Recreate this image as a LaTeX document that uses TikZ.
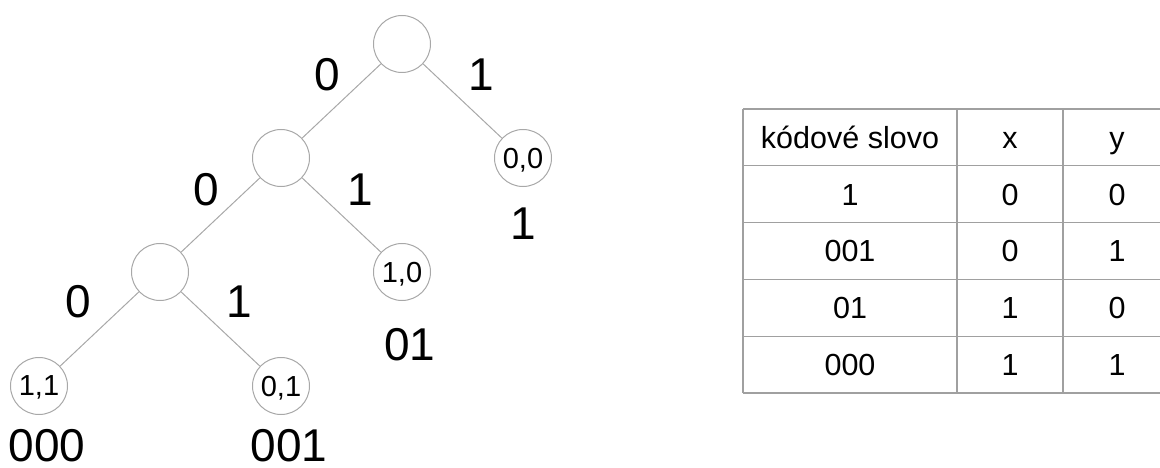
\documentclass[tikz,border=0pt]{standalone}
\usepackage{fontspec}
\setmainfont{Liberation Sans}
\definecolor{treegray}{HTML}{A8A8A8}
\definecolor{tablegray}{HTML}{A0A0A0}
\begin{document}
\begin{tikzpicture}[x=1pt,y=-1pt,
  tn/.style={circle,draw=treegray,line width=1pt,minimum size=57pt,inner sep=0pt,
    font=\fontsize{29}{33}\selectfont,text depth=0pt},
  big/.style={inner sep=0pt,font=\fontsize{46}{55}\selectfont},
  cell/.style={inner sep=0pt,anchor=base,font=\fontsize{30.5}{36}\selectfont},
  edge/.style={draw=treegray,line width=1pt},
  grid/.style={draw=tablegray,line width=1.2pt}]
\useasboundingbox (0,0) rectangle (1160,468);

% tree nodes
\node[tn] (root) at (402,44) {};
\node[tn] (a) at (281,158) {};
\node[tn] (b) at (523,158) {0,0};
\node[tn] (c) at (160,272) {};
\node[tn] (d) at (402,272) {1,0};
\node[tn] (e) at (39,386) {1,1};
\node[tn] (f) at (281,386) {0,1};

% edges
\draw[edge] (root) -- (a);
\draw[edge] (root) -- (b);
\draw[edge] (a) -- (c);
\draw[edge] (a) -- (d);
\draw[edge] (c) -- (e);
\draw[edge] (c) -- (f);

% edge labels
\node[big] (l0a) at (327,75) {0};
\node[big] (l1a) at (481,75) {1};
\node[big] (l0b) at (206,190) {0};
\node[big] (l1b) at (360,190) {1};
\node[big] (l0c) at (78,302) {0};
\node[big] (l1c) at (239,302) {1};

% code words
\node[big] (cb) at (523,223.5) {1};
\node[big] (cd) at (410,345) {01};
\node[big] (ce) at (47,446) {000};
\node[big] (cf) at (289,446) {001};

% table grid
\foreach \i/\y in {0/109,1/165.8,2/222.6,3/279.4,4/336.2,5/393}{
  \coordinate (tl\i) at (743,\y);
  \coordinate (tr\i) at (1160,\y);
  \draw[grid] (tl\i) -- (tr\i);
}
\foreach \n/\x in {v0/743,v1/957,v2/1063}{
  \coordinate (\n top) at (\x,109);
  \coordinate (\n bot) at (\x,393);
  \draw[grid] (\n top) -- (\n bot);
}

% table text
\node[cell] (h1) at (850,148.3) {kódové slovo};
\node[cell] (h2) at (1010,148.3) {x};
\node[cell] (h3) at (1117,148.3) {y};

\node[cell] (r1a) at (850,205.1) {1};
\node[cell] (r1b) at (1010,205.1) {0};
\node[cell] (r1c) at (1117,205.1) {0};

\node[cell] (r2a) at (850,261.9) {001};
\node[cell] (r2b) at (1010,261.9) {0};
\node[cell] (r2c) at (1117,261.9) {1};

\node[cell] (r3a) at (850,318.7) {01};
\node[cell] (r3b) at (1010,318.7) {1};
\node[cell] (r3c) at (1117,318.7) {0};

\node[cell] (r4a) at (850,375.5) {000};
\node[cell] (r4b) at (1010,375.5) {1};
\node[cell] (r4c) at (1117,375.5) {1};
\end{tikzpicture}
\end{document}
